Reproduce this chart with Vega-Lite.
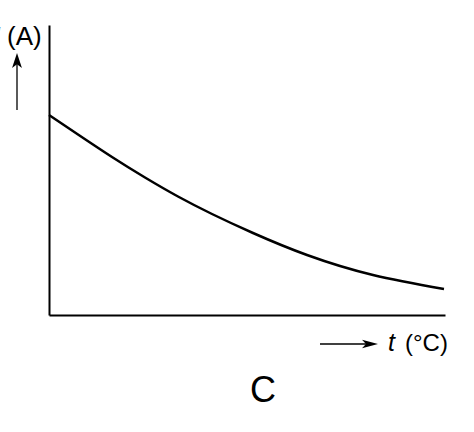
{
  "$schema": "https://vega.github.io/schema/vega-lite/v6.json",
  "width": 396,
  "height": 290,
  "autosize": "none",
  "padding": {"left": 49, "top": 25, "right": 29, "bottom": 117},
  "background": "white",
  "config": {
    "view": {"stroke": null},
    "font": "Liberation Sans",
    "axis": {
      "domainColor": "black",
      "domainWidth": 2,
      "ticks": false,
      "labels": false,
      "grid": false,
      "title": null
    }
  },
  "layer": [
    {
      "data": {
        "values": [
          {"t": 0, "I": 200},
          {"t": 29, "I": 180.5},
          {"t": 63, "I": 158},
          {"t": 96, "I": 137.5},
          {"t": 129, "I": 118.5},
          {"t": 163, "I": 101},
          {"t": 204, "I": 82},
          {"t": 258, "I": 60},
          {"t": 324, "I": 40},
          {"t": 395, "I": 26}
        ]
      },
      "mark": {"type": "line", "color": "black", "strokeWidth": 2.5, "interpolate": "natural"},
      "encoding": {
        "x": {"field": "t", "type": "quantitative", "scale": {"domain": [0, 396], "nice": false}, "axis": {"orient": "bottom"}},
        "y": {"field": "I", "type": "quantitative", "scale": {"domain": [0, 290], "nice": false}, "axis": {"orient": "left"}}
      }
    },
    {
      "data": {"values": [{}]},
      "layer": [
        {
          "mark": {"type": "rule", "color": "black", "strokeWidth": 1.3},
          "encoding": {
            "x": {"datum": -32, "type": "quantitative"},
            "y": {"datum": 205, "type": "quantitative"},
            "y2": {"datum": 252}
          }
        },
        {
          "mark": {"type": "point", "filled": true, "color": "black", "opacity": 1, "size": 900, "shape": "M0,0L0.33,1L0,0.75L-0.33,1Z"},
          "encoding": {
            "x": {"datum": -32, "type": "quantitative"},
            "y": {"datum": 262, "type": "quantitative"}
          }
        },
        {
          "mark": {"type": "rule", "color": "black", "strokeWidth": 1.5},
          "encoding": {
            "x": {"datum": 271, "type": "quantitative"},
            "x2": {"datum": 320},
            "y": {"datum": -29, "type": "quantitative"}
          }
        },
        {
          "mark": {"type": "point", "filled": true, "color": "black", "opacity": 1, "size": 1024, "shape": "M0,0L-1,0.27L-0.75,0L-1,-0.27Z"},
          "encoding": {
            "x": {"datum": 329, "type": "quantitative"},
            "y": {"datum": -29, "type": "quantitative"}
          }
        },
        {
          "mark": {"type": "text", "text": "I", "fontStyle": "italic", "fontSize": 26, "align": "right", "baseline": "alphabetic"},
          "encoding": {
            "x": {"datum": -48.5, "type": "quantitative"},
            "y": {"datum": 270.5, "type": "quantitative"}
          }
        },
        {
          "mark": {"type": "text", "text": "(A)", "fontSize": 26, "align": "left", "baseline": "alphabetic"},
          "encoding": {
            "x": {"datum": -42, "type": "quantitative"},
            "y": {"datum": 270.5, "type": "quantitative"}
          }
        },
        {
          "mark": {"type": "text", "text": "t", "fontStyle": "italic", "fontSize": 25, "align": "left", "baseline": "alphabetic"},
          "encoding": {
            "x": {"datum": 339, "type": "quantitative"},
            "y": {"datum": -36, "type": "quantitative"}
          }
        },
        {
          "mark": {"type": "text", "text": "(°C)", "fontSize": 24, "align": "left", "baseline": "alphabetic"},
          "encoding": {
            "x": {"datum": 356, "type": "quantitative"},
            "y": {"datum": -36, "type": "quantitative"}
          }
        },
        {
          "mark": {"type": "text", "text": "C", "fontSize": 36, "align": "center", "baseline": "alphabetic"},
          "encoding": {
            "x": {"datum": 214, "type": "quantitative"},
            "y": {"datum": -87, "type": "quantitative"}
          }
        }
      ]
    }
  ]
}
